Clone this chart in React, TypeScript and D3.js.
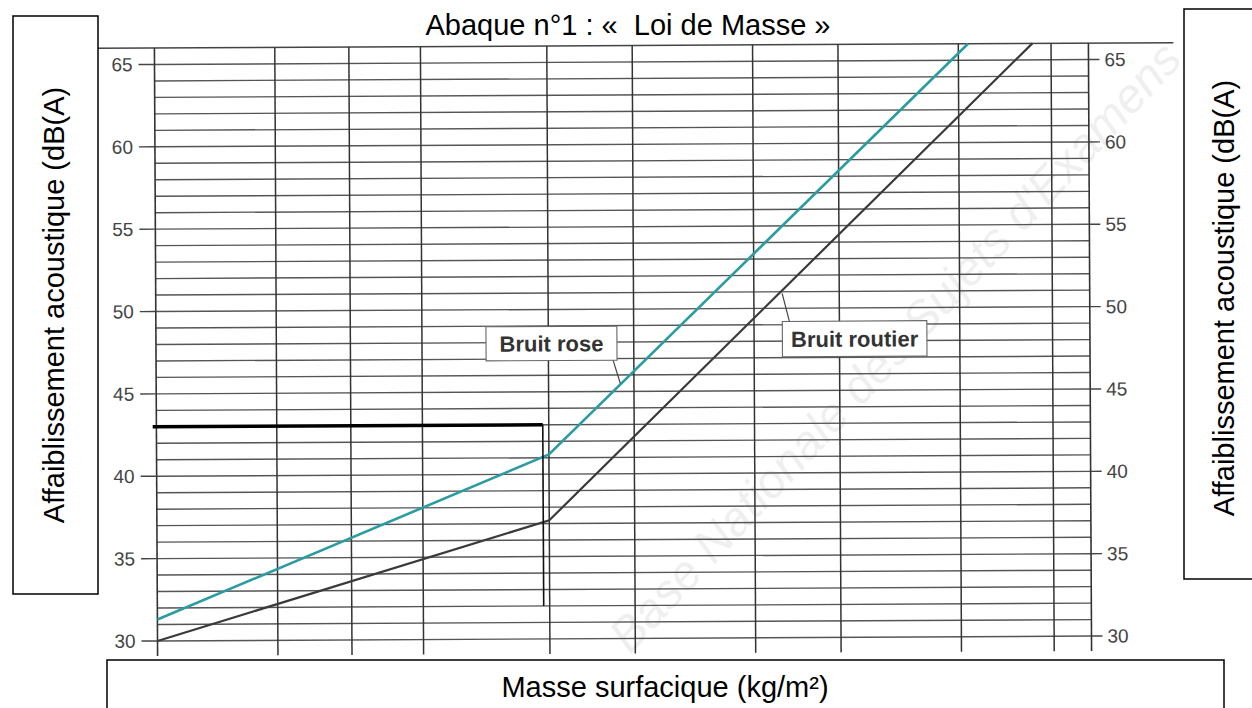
import React from 'react';
import * as d3 from 'd3';

// grid / axis values
const massDomain = [40, 930];
const massGrid = [60, 77, 98, 150, 200, 300, 400, 600, 820];
const dbMin = 30;
const dbMax = 65;
const dbTop = 66;
const dbTicks = [30, 35, 40, 45, 50, 55, 60, 65];

// curves
const roseMass = [40, 150, 620];
const roseDb = [31.3, 41.2, 66];
const routierMass = [40, 150, 770];
const routierDb = [30.0, 37.2, 66];

// reading drawn on the chart
const readMass = [39.5, 147, 147];
const readDb = [43, 43, 32];

const labels = [
  { text: 'Bruit rose', box: [121.6, 189], boxDb: [48.97, 46.9], leader: [[186.5, 46.9], [191, 45.5]] },
  { text: 'Bruit routier', box: [330, 537], boxDb: [49.2, 47.05], leader: [[338, 49.2], [330, 50.9]] },
];

const W = 1252;
const H = 708;
const FONT = 'Arial, "Liberation Sans", sans-serif';

export default function App() {
  const x = d3.scaleLog().domain(massDomain).range([156, 1090]);
  const y = d3.scaleLinear().domain([dbMin, dbMax]).range([638.5, 62]);

  const line = d3.line<[number, number]>().x(d => x(d[0])).y(d => y(d[1]));
  const rose = roseMass.map((m, i) => [m, roseDb[i]] as [number, number]);
  const routier = routierMass.map((m, i) => [m, routierDb[i]] as [number, number]);
  const reading = readMass.map((m, i) => [m, readDb[i]] as [number, number]);

  const x0 = x(massDomain[0]);
  const x1 = x(massDomain[1]);
  const yTop = y(dbTop);
  const yBot = y(dbMin) + 15;

  return (
    <svg width={W} height={H} style={{ position: 'absolute', left: 0, top: 0, background: '#fff' }}
      fontFamily={FONT}>
      <rect width={W} height={H} fill="#fff" />

      {/* watermark */}
      <text transform="translate(630,655) rotate(-47)" fontSize={48} fill="#000" opacity={0.06}
        fontStyle="italic">Base Nationale des Sujets d'Examens</text>

      <g transform="rotate(-0.3, 625, 350)">
        {/* horizontal grid, 1 dB */}
        {d3.range(dbMin, dbMax + 1).map(d => (
          <line key={'h' + d} x1={x0} x2={x1} y1={y(d)} y2={y(d)} stroke="#555" strokeWidth={1.4} />
        ))}
        {/* top border */}
        <line x1={98} x2={1175} y1={yTop} y2={yTop} stroke="#444" strokeWidth={1.5} />
        {/* vertical grid */}
        {massGrid.map(m => (
          <line key={'v' + m} x1={x(m)} x2={x(m)} y1={yTop} y2={yBot} stroke="#333" strokeWidth={1.5} />
        ))}
        <line x1={x0} x2={x0} y1={yTop} y2={yBot} stroke="#333" strokeWidth={1.6} />
        <line x1={x1} x2={x1} y1={yTop} y2={yBot} stroke="#333" strokeWidth={1.6} />

        {/* left axis ticks */}
        {dbTicks.map(d => (
          <g key={'l' + d}>
            <line x1={x0 - 16} x2={x0} y1={y(d)} y2={y(d)} stroke="#444" strokeWidth={1.4} />
            <text x={x0 - 22} y={y(d)} dy="0.35em" textAnchor="end" fontSize={19} fill="#444">{d}</text>
          </g>
        ))}
        {/* right axis ticks */}
        {dbTicks.map(d => (
          <g key={'r' + d}>
            <line x1={x1} x2={x1 + 11} y1={y(d)} y2={y(d)} stroke="#444" strokeWidth={1.4} />
            <text x={x1 + 16} y={y(d)} dy="0.35em" textAnchor="start" fontSize={19} fill="#444">{d}</text>
          </g>
        ))}

        {/* curves */}
        <path d={line(routier) || ''} fill="none" stroke="#3a3a3a" strokeWidth={2.2} />
        <path d={line(rose) || ''} fill="none" stroke="#2b9ca1" strokeWidth={2.6} />

        {/* labels */}
        {labels.map(l => {
          const bx0 = x(l.box[0]);
          const bx1 = x(l.box[1]);
          const by0 = y(l.boxDb[0]);
          const by1 = y(l.boxDb[1]);
          return (
            <g key={l.text}>
              <line x1={x(l.leader[0][0])} y1={y(l.leader[0][1])} x2={x(l.leader[1][0])} y2={y(l.leader[1][1])}
                stroke="#444" strokeWidth={1.2} />
              <rect x={bx0} y={by0} width={bx1 - bx0} height={by1 - by0} fill="#fff" stroke="#666" strokeWidth={1.1} />
              <text x={(bx0 + bx1) / 2} y={(by0 + by1) / 2} dy="0.36em" textAnchor="middle" fontSize={22}
                fontWeight="bold" fill="#333">{l.text}</text>
            </g>
          );
        })}

        {/* reading */}
        <path d={line(reading.slice(0, 2)) || ''} fill="none" stroke="#000" strokeWidth={3.5} />
        <path d={line(reading.slice(1)) || ''} fill="none" stroke="#111" strokeWidth={1.6} />
      </g>

      {/* title */}
      <text x={628} y={35} textAnchor="middle" fontSize={29} fill="#000" style={{ whiteSpace: 'pre' }}>
        {'Abaque n°1 : «  Loi de Masse »'}
      </text>

      {/* left axis title box */}
      <rect x={13} y={16} width={85} height={578} fill="#fff" stroke="#000" strokeWidth={1.5} />
      <text transform="translate(64,305) rotate(-90)" textAnchor="middle" fontSize={29} fill="#000">
        Affaiblissement acoustique (dB(A)
      </text>

      {/* right axis title box */}
      <rect x={1184} y={9} width={90} height={570} fill="#fff" stroke="#000" strokeWidth={1.5} />
      <text transform="translate(1234,298) rotate(-90)" textAnchor="middle" fontSize={29} fill="#000">
        Affaiblissement acoustique (dB(A)
      </text>

      {/* x axis title box */}
      <rect x={107} y={660} width={1117} height={70} fill="#fff" stroke="#000" strokeWidth={1.5} />
      <text x={665} y={697} textAnchor="middle" fontSize={29} fill="#000">Masse surfacique (kg/m²)</text>
    </svg>
  );
}
